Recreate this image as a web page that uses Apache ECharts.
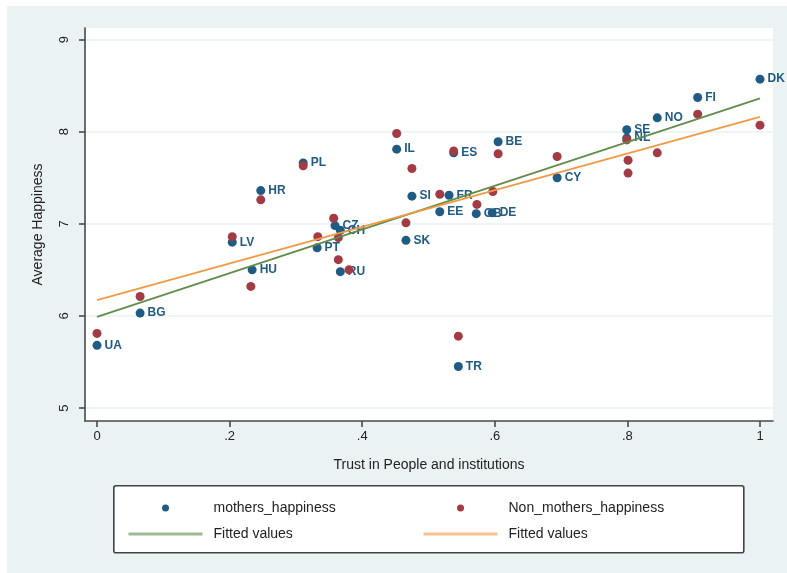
<!DOCTYPE html>
<html>
<head>
<meta charset="utf-8">
<script src="https://cdn.jsdelivr.net/npm/echarts@6/dist/echarts.min.js"></script>
<style>
  html, body { margin: 0; padding: 0; background: #ffffff; }
  #chart { width: 787px; height: 573px; }
</style>
</head>
<body>
<div id="chart"></div>
<script>
// Country codes labelling the mothers' points
const countryCodes = ['UA','BG','LV','HU','HR','PL','CZ','CH','PT','RU','IL','SK','SI','FR','EE','ES','TR','GB','DE','BE','CY','SE','NL','NO','FI','DK'];

// Trust in people and institutions (x) and average happiness of mothers (y)
const trustMothers     = [0.000, 0.065, 0.204, 0.234, 0.247, 0.311, 0.359, 0.367, 0.332, 0.367, 0.452, 0.466, 0.475, 0.531, 0.517, 0.538, 0.545, 0.572, 0.596, 0.605, 0.694, 0.799, 0.799, 0.845, 0.906, 1.000];
const happinessMothers = [5.68, 6.03, 6.80, 6.50, 7.36, 7.66, 6.98, 6.93, 6.74, 6.48, 7.81, 6.82, 7.30, 7.31, 7.13, 7.77, 5.45, 7.11, 7.12, 7.89, 7.50, 8.02, 7.93, 8.15, 8.37, 8.57];

// Trust (x) and average happiness of non-mothers (y)
const trustNonMothers     = [0.000, 0.065, 0.204, 0.232, 0.247, 0.311, 0.357, 0.333, 0.364, 0.364, 0.380, 0.452, 0.475, 0.466, 0.517, 0.538, 0.545, 0.573, 0.597, 0.605, 0.694, 0.799, 0.801, 0.801, 0.845, 0.906, 1.000];
const happinessNonMothers = [5.81, 6.21, 6.86, 6.32, 7.26, 7.63, 7.06, 6.86, 6.85, 6.61, 6.50, 7.98, 7.60, 7.01, 7.32, 7.79, 5.78, 7.21, 7.35, 7.76, 7.73, 7.91, 7.69, 7.55, 7.77, 8.19, 8.07];

// Fitted values: end points of the two regression lines
const fitTrust      = [0, 1];
const fitMothers    = [5.99, 8.36];
const fitNonMothers = [6.17, 8.16];

// Tick values
const xTicks = [0, 0.2, 0.4, 0.6, 0.8, 1];
const yTicks = [5, 6, 7, 8, 9];

const FONT = '"Liberation Sans", Arial, Helvetica, sans-serif';
const BLUE = '#1F5B82';
const RED = '#A33B45';
const GREEN = '#628C4A';
const ORANGE = '#F09A45';
const AXIS = '#4a4a4a';

const legendNames = {
  mothers_happiness: 'mothers_happiness',
  Non_mothers_happiness: 'Non_mothers_happiness',
  fit_m: 'Fitted values',
  fit_n: 'Fitted values'
};

function stataNumber(v) {
  if (v === 0 || v === 1) return String(v);
  return String(v).replace(/^0/, '');
}

const chart = echarts.init(document.getElementById('chart'), null, { renderer: 'canvas' });

const legendCommon = {
  orient: 'vertical',
  top: 496,
  itemWidth: 74,
  itemHeight: 7,
  itemGap: 12,
  selectedMode: false,
  formatter: n => legendNames[n],
  textStyle: { fontFamily: FONT, fontSize: 14, color: '#222', padding: [0, 0, 0, 6] }
};

// Line keys in the legend: plain strokes, no point marker
const lineKey = name => ({ name, itemStyle: { opacity: 0 }, lineStyle: { width: 3, opacity: 0.6 } });

chart.setOption({
  backgroundColor: '#EAF2F3',
  animation: false,
  graphic: [
    { type: 'rect', left: 0, top: 0, shape: { width: 787, height: 6 }, style: { fill: '#ffffff' }, silent: true },
    { type: 'rect', left: 0, top: 0, shape: { width: 7, height: 573 }, style: { fill: '#ffffff' }, silent: true },
    { type: 'rect', left: 113, top: 485, shape: { width: 630, height: 67, r: 2 },
      style: { fill: '#ffffff', stroke: '#444444', lineWidth: 1.6 }, silent: true }
  ],
  grid: {
    left: 85, right: 14, top: 28, bottom: 152,
    show: true, backgroundColor: '#ffffff', borderWidth: 0
  },
  xAxis: {
    type: 'value',
    min: -0.0181, max: 1.0196,
    axisLine: { show: true, onZero: false, lineStyle: { color: AXIS, width: 1.6 } },
    axisTick: { show: true, customValues: xTicks, length: 6, lineStyle: { color: AXIS, width: 1.6 } },
    axisLabel: { customValues: xTicks, formatter: stataNumber, margin: 9,
      fontFamily: FONT, fontSize: 13, color: '#222' },
    splitLine: { show: false },
    name: 'Trust in People and institutions',
    nameLocation: 'middle', nameGap: 37,
    nameTextStyle: { fontFamily: FONT, fontSize: 14, color: '#222' }
  },
  yAxis: {
    type: 'value',
    min: 4.859, max: 9.125,
    axisLine: { show: true, onZero: false, lineStyle: { color: AXIS, width: 1.6 } },
    axisTick: { show: true, customValues: yTicks, length: 6, lineStyle: { color: AXIS, width: 1.6 } },
    axisLabel: { customValues: yTicks, rotate: 90, margin: 14,
      fontFamily: FONT, fontSize: 13, color: '#222' },
    splitLine: { show: true, lineStyle: { color: '#EAF2F3', width: 1.5 } },
    name: 'Average Happiness',
    nameLocation: 'middle', nameGap: 40, nameRotate: 90,
    nameTextStyle: { fontFamily: FONT, fontSize: 14, color: '#222' }
  },
  legend: [
    Object.assign({ left: 122, data: ['mothers_happiness', lineKey('fit_m')] }, legendCommon),
    Object.assign({ left: 417, data: ['Non_mothers_happiness', lineKey('fit_n')] }, legendCommon)
  ],
  series: [
    {
      name: 'mothers_happiness',
      type: 'scatter',
      z: 2,
      symbol: 'circle',
      symbolSize: 9,
      itemStyle: { color: BLUE, opacity: 1 },
      data: trustMothers.map((x, i) => [x, happinessMothers[i], countryCodes[i]]),
      label: {
        show: true, position: 'right', distance: 3,
        formatter: p => p.data[2],
        fontFamily: FONT, fontSize: 12, fontWeight: 'bold', color: BLUE
      }
    },
    {
      name: 'Non_mothers_happiness',
      type: 'scatter',
      z: 3,
      symbol: 'circle',
      symbolSize: 9,
      itemStyle: { color: RED, opacity: 1 },
      data: trustNonMothers.map((x, i) => [x, happinessNonMothers[i]])
    },
    {
      name: 'fit_m',
      type: 'line',
      z: 4,
      symbol: 'none',
      silent: true,
      color: GREEN,
      lineStyle: { color: GREEN, width: 1.8 },
      data: fitTrust.map((x, i) => [x, fitMothers[i]])
    },
    {
      name: 'fit_n',
      type: 'line',
      z: 4,
      symbol: 'none',
      silent: true,
      color: ORANGE,
      lineStyle: { color: ORANGE, width: 1.8 },
      data: fitTrust.map((x, i) => [x, fitNonMothers[i]])
    }
  ]
});
</script>
</body>
</html>
